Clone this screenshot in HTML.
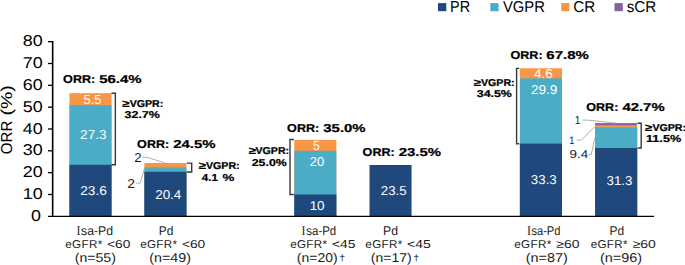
<!DOCTYPE html>
<html><head><meta charset="utf-8"><style>
html,body{margin:0;padding:0;background:#fff;width:685px;height:265px;overflow:hidden}
svg{display:block}
text{font-family:"Liberation Sans",sans-serif;white-space:pre;text-rendering:geometricPrecision}
</style></head><body>
<svg width="685" height="265" viewBox="0 0 685 265">
<rect x="438.0" y="3.1" width="8.3" height="8.1" fill="#1F497D"/>
<rect x="490.3" y="3.1" width="8.3" height="8.1" fill="#4BACC6"/>
<rect x="561.2" y="3.1" width="8.3" height="8.1" fill="#F79646"/>
<rect x="614.5" y="3.1" width="8.3" height="8.1" fill="#8064A2"/>
<rect x="69.45" y="93.18" width="42.05" height="123.12" fill="#F79646"/>
<rect x="69.45" y="105.19" width="42.05" height="111.11" fill="#4BACC6"/>
<rect x="69.45" y="164.78" width="42.05" height="51.52" fill="#1F497D"/>
<rect x="144.40" y="163.03" width="42.05" height="53.27" fill="#F79646"/>
<rect x="144.40" y="167.40" width="42.05" height="48.90" fill="#4BACC6"/>
<rect x="144.40" y="171.77" width="42.05" height="44.53" fill="#1F497D"/>
<rect x="294.30" y="139.90" width="42.05" height="76.41" fill="#F79646"/>
<rect x="294.30" y="150.81" width="42.05" height="65.49" fill="#4BACC6"/>
<rect x="294.30" y="194.47" width="42.05" height="21.83" fill="#1F497D"/>
<rect x="369.50" y="165.00" width="42.05" height="51.30" fill="#1F497D"/>
<rect x="519.90" y="68.29" width="42.05" height="148.01" fill="#F79646"/>
<rect x="519.90" y="78.33" width="42.05" height="137.97" fill="#4BACC6"/>
<rect x="519.90" y="143.61" width="42.05" height="72.69" fill="#1F497D"/>
<rect x="595.10" y="123.09" width="42.05" height="93.21" fill="#8064A2"/>
<rect x="595.10" y="125.27" width="42.05" height="91.03" fill="#F79646"/>
<rect x="595.10" y="127.45" width="42.05" height="88.85" fill="#4BACC6"/>
<rect x="595.10" y="147.97" width="42.05" height="68.33" fill="#1F497D"/>
<line x1="52.65" y1="41.01" x2="52.65" y2="216.4" stroke="#000" stroke-width="1.6"/>
<line x1="48.0" y1="194.47" x2="52.65" y2="194.47" stroke="#000" stroke-width="1.3"/>
<line x1="48.0" y1="172.64" x2="52.65" y2="172.64" stroke="#000" stroke-width="1.3"/>
<line x1="48.0" y1="150.81" x2="52.65" y2="150.81" stroke="#000" stroke-width="1.3"/>
<line x1="48.0" y1="128.98" x2="52.65" y2="128.98" stroke="#000" stroke-width="1.3"/>
<line x1="48.0" y1="107.15" x2="52.65" y2="107.15" stroke="#000" stroke-width="1.3"/>
<line x1="48.0" y1="85.32" x2="52.65" y2="85.32" stroke="#000" stroke-width="1.3"/>
<line x1="48.0" y1="63.49" x2="52.65" y2="63.49" stroke="#000" stroke-width="1.3"/>
<line x1="48.0" y1="41.66" x2="52.65" y2="41.66" stroke="#000" stroke-width="1.3"/>
<line x1="48" y1="216.4" x2="654" y2="216.4" stroke="#000" stroke-width="1.2"/>
<polyline points="111.45,93.30 115.35,93.30 115.35,164.80 111.45,164.80" fill="none" stroke="#383838" stroke-width="1.4"/>
<polyline points="186.9,163.13 191.7,163.13 191.7,171.97 186.9,171.97" fill="none" stroke="#383838" stroke-width="1.4"/>
<polyline points="293.9,139.45 290.0,139.45 290.0,194.57 293.9,194.57" fill="none" stroke="#383838" stroke-width="1.4"/>
<polyline points="519.2,68.35 516.6,68.35 516.6,143.71 519.2,143.71" fill="none" stroke="#383838" stroke-width="1.4"/>
<polyline points="637.6,123.19 641.2,123.19 641.2,148.07 637.6,148.07" fill="none" stroke="#383838" stroke-width="1.4"/>
<polyline points="142.4,157.3 147.5,157.4 165.4,163.1" fill="none" stroke="#A6A6A6" stroke-width="0.9"/>
<polyline points="135.9,183.2 140.1,183.2 144.6,168.1" fill="none" stroke="#A6A6A6" stroke-width="0.9"/>
<polyline points="582.8,120.1 588.5,120.2 616.0,123.1" fill="none" stroke="#A6A6A6" stroke-width="0.9"/>
<polyline points="576.8,140.1 581.3,140.1 594.9,126.5" fill="none" stroke="#A6A6A6" stroke-width="0.9"/>
<polyline points="588.6,154.6 591.3,154.6 594.9,137.4" fill="none" stroke="#A6A6A6" stroke-width="0.9"/>
<text transform="translate(450.04,12) scale(0.9061,1)" font-size="15.94" font-weight="normal" fill="#000000">PR</text>
<text transform="translate(502.95,12) scale(0.9442,1)" font-size="15.71" font-weight="normal" fill="#000000">VGPR</text>
<text transform="translate(573.24,12) scale(0.9688,1)" font-size="15.71" font-weight="normal" fill="#000000">CR</text>
<text transform="translate(626.64,12) scale(0.9717,1)" font-size="15.71" font-weight="normal" fill="#000000">sCR</text>
<text transform="translate(22.73,199) scale(1.1400,1)" font-size="15.71" font-weight="normal" fill="#000000">10</text>
<text transform="translate(22.73,177) scale(1.1400,1)" font-size="15.71" font-weight="normal" fill="#000000">20</text>
<text transform="translate(22.73,155) scale(1.1400,1)" font-size="15.71" font-weight="normal" fill="#000000">30</text>
<text transform="translate(22.73,134) scale(1.1400,1)" font-size="15.71" font-weight="normal" fill="#000000">40</text>
<text transform="translate(22.73,112) scale(1.1400,1)" font-size="15.71" font-weight="normal" fill="#000000">50</text>
<text transform="translate(22.73,90) scale(1.1400,1)" font-size="15.71" font-weight="normal" fill="#000000">60</text>
<text transform="translate(22.73,68) scale(1.1400,1)" font-size="15.71" font-weight="normal" fill="#000000">70</text>
<text transform="translate(22.73,46) scale(1.1400,1)" font-size="15.71" font-weight="normal" fill="#000000">80</text>
<text transform="translate(31.08,221) scale(1.1402,1)" font-size="15.71" font-weight="normal" fill="#000000">0</text>
<text transform="translate(83.48,104) scale(0.9949,1)" font-size="13.04" font-weight="normal" fill="#FFFFFF">5.5</text>
<text transform="translate(80.12,139) scale(1.0553,1)" font-size="12.86" font-weight="normal" fill="#FFFFFF">27.3</text>
<text transform="translate(80.21,195) scale(1.0679,1)" font-size="12.86" font-weight="normal" fill="#FFFFFF">23.6</text>
<text transform="translate(155.13,199) scale(1.0481,1)" font-size="12.86" font-weight="normal" fill="#FFFFFF">20.4</text>
<text transform="translate(313.01,150) scale(0.9461,1)" font-size="13.04" font-weight="normal" fill="#FFFFFF">5</text>
<text transform="translate(309.65,166) scale(1.0142,1)" font-size="12.86" font-weight="normal" fill="#FFFFFF">20</text>
<text transform="translate(309.63,210) scale(1.0449,1)" font-size="12.86" font-weight="normal" fill="#FFFFFF">10</text>
<text transform="translate(380.73,195) scale(1.0384,1)" font-size="12.86" font-weight="normal" fill="#FFFFFF">23.5</text>
<text transform="translate(533.93,78) scale(1.0526,1)" font-size="12.86" font-weight="normal" fill="#FFFFFF">4.6</text>
<text transform="translate(530.92,94) scale(1.0511,1)" font-size="12.86" font-weight="normal" fill="#FFFFFF">29.9</text>
<text transform="translate(530.87,184) scale(1.0329,1)" font-size="12.86" font-weight="normal" fill="#FFFFFF">33.3</text>
<text transform="translate(606.47,185) scale(1.0370,1)" font-size="12.86" font-weight="normal" fill="#FFFFFF">31.3</text>
<text transform="translate(63.10,83) scale(1.1000,1)" font-size="11.43" font-weight="bold" fill="#000000" letter-spacing="0.023" stroke="#000000" stroke-width="0.22">ORR:</text>
<text transform="translate(99.15,83) scale(1.3094,1)" font-size="11.43" font-weight="bold" fill="#000000" stroke="#000000" stroke-width="0.22">56.4%</text>
<text transform="translate(137.10,148) scale(1.1000,1)" font-size="11.43" font-weight="bold" fill="#000000" letter-spacing="0.023" stroke="#000000" stroke-width="0.22">ORR:</text>
<text transform="translate(173.15,148) scale(1.3094,1)" font-size="11.43" font-weight="bold" fill="#000000" stroke="#000000" stroke-width="0.22">24.5%</text>
<text transform="translate(287.10,132) scale(1.1000,1)" font-size="11.43" font-weight="bold" fill="#000000" letter-spacing="0.023" stroke="#000000" stroke-width="0.22">ORR:</text>
<text transform="translate(323.30,132) scale(1.3047,1)" font-size="11.43" font-weight="bold" fill="#000000" stroke="#000000" stroke-width="0.22">35.0%</text>
<text transform="translate(362.60,156) scale(1.1000,1)" font-size="11.43" font-weight="bold" fill="#000000" letter-spacing="0.023" stroke="#000000" stroke-width="0.22">ORR:</text>
<text transform="translate(398.65,156) scale(1.3094,1)" font-size="11.43" font-weight="bold" fill="#000000" stroke="#000000" stroke-width="0.22">23.5%</text>
<text transform="translate(510.40,59) scale(1.1000,1)" font-size="11.43" font-weight="bold" fill="#000000" letter-spacing="0.023" stroke="#000000" stroke-width="0.22">ORR:</text>
<text transform="translate(546.30,59) scale(1.3141,1)" font-size="11.43" font-weight="bold" fill="#000000" stroke="#000000" stroke-width="0.22">67.8%</text>
<text transform="translate(586.20,111) scale(1.1000,1)" font-size="11.43" font-weight="bold" fill="#000000" letter-spacing="0.023" stroke="#000000" stroke-width="0.22">ORR:</text>
<text transform="translate(622.40,111) scale(1.3047,1)" font-size="11.43" font-weight="bold" fill="#000000" stroke="#000000" stroke-width="0.22">42.7%</text>
<text transform="translate(122.24,107) scale(1.3200,1)" font-size="10.00" font-weight="bold" fill="#000000" stroke="#000000" stroke-width="0.22">≥</text>
<text transform="translate(129.69,107) scale(1.0621,1)" font-size="10.00" font-weight="bold" fill="#000000" stroke="#000000" stroke-width="0.22">VGPR:</text>
<text transform="translate(124.55,118) scale(1.2437,1)" font-size="10.00" font-weight="bold" fill="#000000" stroke="#000000" stroke-width="0.22">32.7%</text>
<text transform="translate(198.74,169) scale(1.3200,1)" font-size="10.00" font-weight="bold" fill="#000000" stroke="#000000" stroke-width="0.22">≥</text>
<text transform="translate(205.99,169) scale(1.0621,1)" font-size="10.00" font-weight="bold" fill="#000000" stroke="#000000" stroke-width="0.22">VGPR:</text>
<text transform="translate(201.87,181) scale(1.1402,1)" font-size="10.14" font-weight="bold" fill="#000000" stroke="#000000" stroke-width="0.22">4.1</text>
<text transform="translate(222.40,181) scale(1.3182,1)" font-size="10.14" font-weight="bold" fill="#000000" stroke="#000000" stroke-width="0.22">%</text>
<text transform="translate(248.74,154) scale(1.3200,1)" font-size="10.00" font-weight="bold" fill="#000000" stroke="#000000" stroke-width="0.22">≥</text>
<text transform="translate(255.49,154) scale(1.0621,1)" font-size="10.00" font-weight="bold" fill="#000000" stroke="#000000" stroke-width="0.22">VGPR:</text>
<text transform="translate(251.73,166) scale(1.2374,1)" font-size="10.00" font-weight="bold" fill="#000000" stroke="#000000" stroke-width="0.22">25.0%</text>
<text transform="translate(473.74,86) scale(1.3200,1)" font-size="10.00" font-weight="bold" fill="#000000" stroke="#000000" stroke-width="0.22">≥</text>
<text transform="translate(480.99,86) scale(1.0621,1)" font-size="10.00" font-weight="bold" fill="#000000" stroke="#000000" stroke-width="0.22">VGPR:</text>
<text transform="translate(476.85,97) scale(1.2330,1)" font-size="10.00" font-weight="bold" fill="#000000" stroke="#000000" stroke-width="0.22">34.5%</text>
<text transform="translate(644.94,131) scale(1.3200,1)" font-size="10.00" font-weight="bold" fill="#000000" stroke="#000000" stroke-width="0.22">≥</text>
<text transform="translate(652.39,131) scale(1.0621,1)" font-size="10.00" font-weight="bold" fill="#000000" stroke="#000000" stroke-width="0.22">VGPR:</text>
<text transform="translate(646.04,142) scale(1.2459,1)" font-size="10.14" font-weight="bold" fill="#000000" stroke="#000000" stroke-width="0.22">11.5%</text>
<text transform="translate(134.14,162) scale(1.0314,1)" font-size="12.86" font-weight="normal" fill="#1c1c1c">2</text>
<text transform="translate(127.30,188) scale(1.0821,1)" font-size="12.86" font-weight="normal" fill="#1c1c1c">2</text>
<text transform="translate(574.68,124) scale(0.8826,1)" font-size="11.59" font-weight="normal" fill="#1c1c1c">1</text>
<text transform="translate(569.36,144) scale(0.8558,1)" font-size="10.87" font-weight="normal" fill="#1c1c1c">1</text>
<text transform="translate(569.43,158) scale(1.1756,1)" font-size="11.43" font-weight="normal" fill="#1c1c1c">9.4</text>
<text transform="translate(76.52,235) scale(0.8908,1)" font-size="13.38" font-weight="normal" fill="#1c1c1c" style="font-family:Liberation Serif">I</text>
<text transform="translate(81.03,235) scale(0.9761,1)" font-size="12.60" font-weight="normal" fill="#1c1c1c">sa-Pd</text>
<text transform="translate(301.52,235) scale(0.8908,1)" font-size="13.38" font-weight="normal" fill="#1c1c1c" style="font-family:Liberation Serif">I</text>
<text transform="translate(306.36,235) scale(0.9068,1)" font-size="12.60" font-weight="normal" fill="#1c1c1c">sa-Pd</text>
<text transform="translate(527.02,235) scale(0.8908,1)" font-size="13.38" font-weight="normal" fill="#1c1c1c" style="font-family:Liberation Serif">I</text>
<text transform="translate(531.47,235) scale(0.8785,1)" font-size="12.60" font-weight="normal" fill="#1c1c1c">sa-Pd</text>
<text transform="translate(158.84,235) scale(0.9478,1)" font-size="12.60" font-weight="normal" fill="#1c1c1c">Pd</text>
<text transform="translate(383.02,235) scale(0.9698,1)" font-size="12.60" font-weight="normal" fill="#1c1c1c">Pd</text>
<text transform="translate(609.54,235) scale(0.9478,1)" font-size="12.60" font-weight="normal" fill="#1c1c1c">Pd</text>
<text transform="translate(65.23,248) scale(1.0200,1)" font-size="11.43" font-weight="normal" fill="#1c1c1c" letter-spacing="0.326">eGFR*</text>
<text transform="translate(107.01,248) scale(1.2065,1)" font-size="11.43" font-weight="normal" fill="#1c1c1c">&lt;60</text>
<text transform="translate(140.13,248) scale(1.0200,1)" font-size="11.43" font-weight="normal" fill="#1c1c1c" letter-spacing="0.326">eGFR*</text>
<text transform="translate(181.91,248) scale(1.2065,1)" font-size="11.43" font-weight="normal" fill="#1c1c1c">&lt;60</text>
<text transform="translate(290.13,248) scale(1.0200,1)" font-size="11.43" font-weight="normal" fill="#1c1c1c" letter-spacing="0.326">eGFR*</text>
<text transform="translate(331.91,248) scale(1.1967,1)" font-size="11.59" font-weight="normal" fill="#1c1c1c">&lt;45</text>
<text transform="translate(365.33,248) scale(1.0200,1)" font-size="11.43" font-weight="normal" fill="#1c1c1c" letter-spacing="0.326">eGFR*</text>
<text transform="translate(407.11,248) scale(1.1967,1)" font-size="11.59" font-weight="normal" fill="#1c1c1c">&lt;45</text>
<text transform="translate(514.23,248) scale(1.0200,1)" font-size="11.43" font-weight="normal" fill="#1c1c1c" letter-spacing="0.326">eGFR*</text>
<text transform="translate(556.28,248) scale(1.2217,1)" font-size="11.43" font-weight="normal" fill="#1c1c1c">≥60</text>
<text transform="translate(590.63,248) scale(1.0200,1)" font-size="11.43" font-weight="normal" fill="#1c1c1c" letter-spacing="0.326">eGFR*</text>
<text transform="translate(632.68,248) scale(1.2217,1)" font-size="11.43" font-weight="normal" fill="#1c1c1c">≥60</text>
<text transform="translate(74.75,262) scale(1.1073,1)" font-size="12.74" font-weight="normal" fill="#1c1c1c">(n=55)</text>
<text transform="translate(149.34,262) scale(1.1185,1)" font-size="12.74" font-weight="normal" fill="#1c1c1c">(n=49)</text>
<text transform="translate(296.86,262) scale(1.0989,1)" font-size="12.74" font-weight="normal" fill="#1c1c1c">(n=20)</text>
<text transform="translate(370.86,262) scale(1.0989,1)" font-size="12.74" font-weight="normal" fill="#1c1c1c">(n=17)</text>
<text transform="translate(525.63,262) scale(1.1326,1)" font-size="12.74" font-weight="normal" fill="#1c1c1c">(n=87)</text>
<text transform="translate(599.93,262) scale(1.1326,1)" font-size="12.74" font-weight="normal" fill="#1c1c1c">(n=96)</text>
<text transform="translate(339.25,261) scale(1.2039,1)" font-size="8.90" font-weight="normal" fill="#1c1c1c">†</text>
<text transform="translate(413.25,261) scale(1.2039,1)" font-size="8.90" font-weight="normal" fill="#1c1c1c">†</text>
<text transform="translate(12.14,154.25) rotate(-90) scale(0.9484,1)" font-size="15.92" fill="#000000">ORR</text>
<text transform="translate(12.14,115.47) rotate(-90) scale(1.2259,1)" font-size="15.92" fill="#000000">(%)</text>
</svg>
</body></html>
